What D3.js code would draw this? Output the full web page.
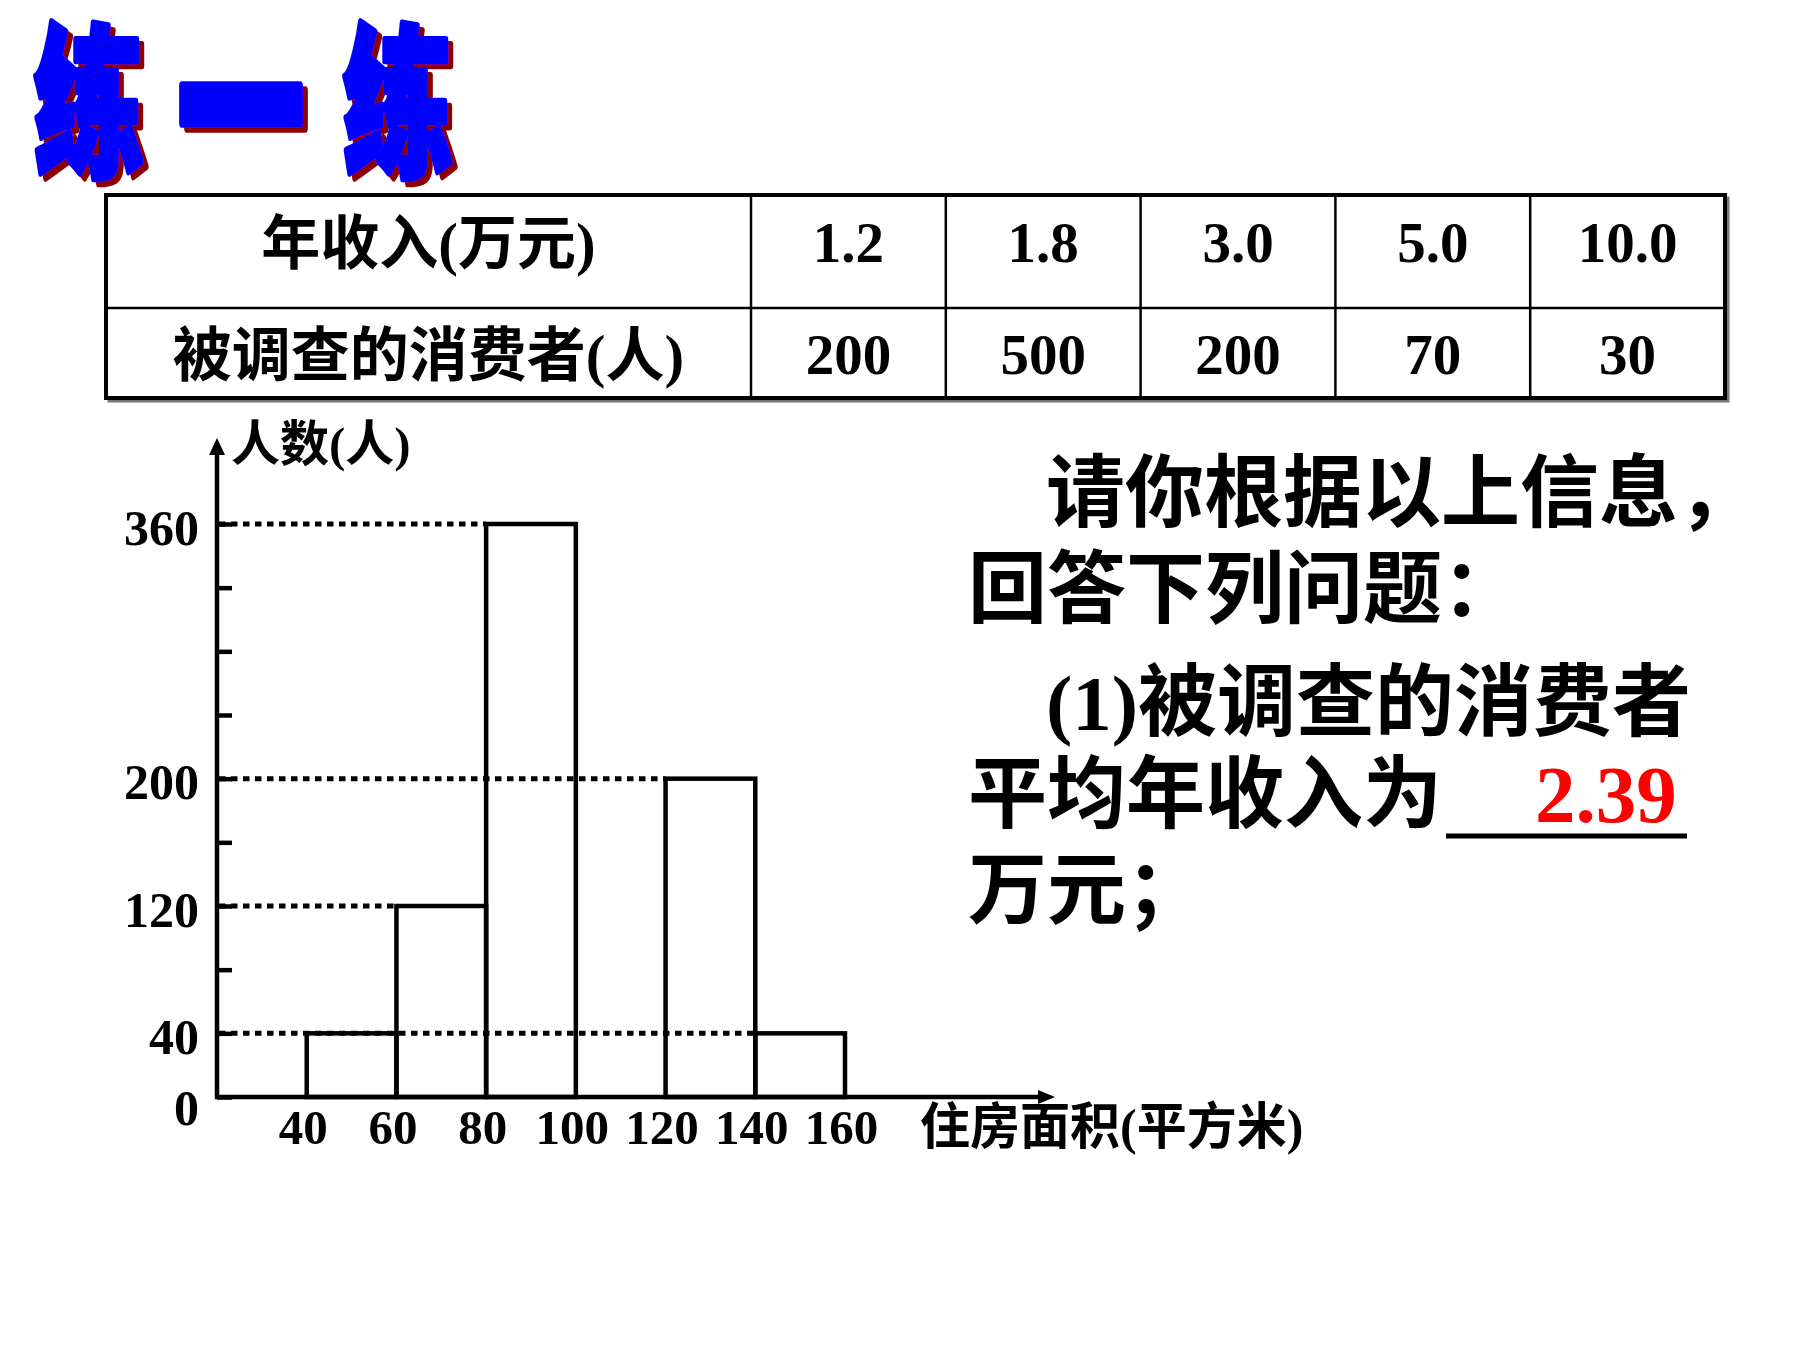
<!DOCTYPE html>
<html>
<head>
<meta charset="utf-8">
<script src="https://cdn.jsdelivr.net/npm/d3@7/dist/d3.min.js"></script>
<style>
  html, body { margin: 0; padding: 0; background: #fff; }
  svg { display: block; }
</style>
</head>
<body>
<div id="chart"></div>
<script>
// ---- data ----
const titleChars = ['练', '一', '练'];
const rowHeaders = ['年收入(万元)', '被调查的消费者(人)'];
const incomes = ['1.2', '1.8', '3.0', '5.0', '10.0'];
const consumers = [200, 500, 200, 70, 30];

const binEdges = [40, 60, 80, 100, 120, 140, 160];
const counts = [40, 120, 360, null, 200, 40];   // 100-120 left blank
const labelledCounts = [0, 40, 120, 200, 360];
const yTitle = '人数(人)';
const xTitle = '住房面积(平方米)';

const questionLines = ['请你根据以上信息，', '回答下列问题：', '(1)被调查的消费者', '平均年收入为', '万元；'];
const answer = '2.39';

// ---- setup ----
const W = 1800, H = 1350;
const FONT = "'Liberation Serif', 'Noto Sans CJK SC', serif";

const svg = d3.select('#chart').append('svg')
  .attr('width', W)
  .attr('height', H)
  .attr('viewBox', [0, 0, W, H]);

// dark red drop shadow for the title
const shadow = svg.append('defs').append('filter')
  .attr('id', 'shadow')
  .attr('x', '-20%').attr('y', '-20%')
  .attr('width', '140%').attr('height', '140%');
shadow.append('feOffset').attr('in', 'SourceAlpha').attr('dx', 5).attr('dy', 5).attr('result', 'off');
shadow.append('feFlood').attr('flood-color', '#8b0000');
shadow.append('feComposite').attr('in2', 'off').attr('operator', 'in').attr('result', 'sh');
const merge = shadow.append('feMerge');
merge.append('feMergeNode').attr('in', 'sh');
merge.append('feMergeNode').attr('in', 'SourceGraphic');

// title
const titleX = [89, 241, 398];
svg.append('g')
  .attr('filter', 'url(#shadow)')
  .selectAll('text')
  .data(titleChars)
  .join('text')
  .attr('transform', (d, i) => i === 1
    ? `translate(${titleX[i]},94) scale(0.74,1.35)`
    : `translate(${titleX[i]},92) scale(0.64,0.95)`)
  .attr('text-anchor', 'middle')
  .attr('dominant-baseline', 'central')
  .attr('font-family', "'Noto Sans CJK SC', sans-serif")
  .attr('font-weight', 900)
  .attr('font-size', 172)
  .attr('fill', '#0000ff')
  .attr('stroke', '#0000ff')
  .attr('stroke-width', 7)
  .attr('stroke-linejoin', 'round')
  .text(d => d);

// ---- table ----
const tbl = { left: 106, right: 1725, top: 195, mid: 308, bottom: 398, firstCol: 751 };
const col = d3.scaleBand().domain(d3.range(incomes.length)).range([tbl.firstCol, tbl.right]);
const table = svg.append('g');

table.append('rect')
  .attr('x', tbl.left + 3).attr('y', tbl.top + 3)
  .attr('width', tbl.right - tbl.left).attr('height', tbl.bottom - tbl.top)
  .attr('fill', 'none').attr('stroke', '#777').attr('stroke-width', 3);
table.append('rect')
  .attr('x', tbl.left).attr('y', tbl.top)
  .attr('width', tbl.right - tbl.left).attr('height', tbl.bottom - tbl.top)
  .attr('fill', '#fff').attr('stroke', '#000').attr('stroke-width', 4);
table.append('line')
  .attr('x1', tbl.left).attr('x2', tbl.right).attr('y1', tbl.mid).attr('y2', tbl.mid)
  .attr('stroke', '#000').attr('stroke-width', 2.5);
table.selectAll('line.col')
  .data(d3.range(incomes.length))
  .join('line')
  .attr('class', 'col')
  .attr('x1', d => col(d)).attr('x2', d => col(d))
  .attr('y1', tbl.top).attr('y2', tbl.bottom)
  .attr('stroke', '#000').attr('stroke-width', 2.5);

const rowBase = [262, 374];
table.selectAll('text.head')
  .data(rowHeaders)
  .join('text')
  .attr('class', 'head')
  .attr('x', (tbl.left + tbl.firstCol) / 2)
  .attr('y', (d, i) => rowBase[i] + 2)
  .attr('text-anchor', 'middle')
  .attr('font-family', FONT)
  .attr('font-weight', 'bold')
  .attr('font-size', 59)
  .text(d => d);

[incomes, consumers].forEach((row, r) => {
  table.selectAll(null)
    .data(row)
    .join('text')
    .attr('x', (d, i) => col(i) + col.bandwidth() / 2)
    .attr('y', rowBase[r])
    .attr('text-anchor', 'middle')
    .attr('font-family', FONT)
    .attr('font-weight', 'bold')
    .attr('font-size', 57)
    .text(d => d);
});

// ---- histogram ----
const x = d3.scaleLinear().domain([20, 160]).range([217, 845]);
const y = d3.scaleLinear().domain([0, 360]).range([1097, 524]);
const axisTipX = 1055, axisTipY = 438;
const chart = svg.append('g');

// dotted guides: from the axis to the left edge of the last bin with that count
const guides = labelledCounts.filter(v => v > 0).map(v => {
  const idx = d3.range(counts.length).filter(i => counts[i] === v).pop();
  return { v, x2: x(binEdges[idx]) };
});
chart.selectAll('line.guide')
  .data(guides)
  .join('line')
  .attr('class', 'guide')
  .attr('x1', x(20) + 2).attr('x2', d => d.x2)
  .attr('y1', d => y(d.v)).attr('y2', d => y(d.v))
  .attr('stroke', '#000')
  .attr('stroke-width', 5)
  .attr('stroke-dasharray', '6.5,5.5');

// bars
const bins = counts.map((c, i) => ({ x0: binEdges[i], x1: binEdges[i + 1], c })).filter(d => d.c != null);
chart.selectAll('rect.bar')
  .data(bins)
  .join('rect')
  .attr('class', 'bar')
  .attr('x', d => x(d.x0))
  .attr('y', d => y(d.c))
  .attr('width', d => x(d.x1) - x(d.x0))
  .attr('height', d => y(0) - y(d.c))
  .attr('fill', 'none')
  .attr('stroke', '#000')
  .attr('stroke-width', 4.5);

// y axis with ticks every 40, labels only at given counts
const yAxis = d3.axisLeft(y)
  .tickValues(d3.range(0, 361, 40))
  .tickSize(-15)
  .tickPadding(18)
  .tickFormat(d => labelledCounts.includes(d) ? d : '');
const yg = chart.append('g')
  .attr('transform', `translate(${x(20)},0)`)
  .call(yAxis);
yg.select('.domain').remove();
yg.selectAll('.tick line').attr('stroke', '#000').attr('stroke-width', 4.5);
yg.selectAll('.tick text')
  .attr('dy', d => d === 0 ? 27 : 20)
  .attr('font-family', FONT)
  .attr('font-weight', 'bold')
  .attr('font-size', 50)
  .attr('fill', '#000');

// x axis labels at bin edges
const xAxis = d3.axisBottom(x).tickValues(binEdges).tickSize(0).tickPadding(0);
const xg = chart.append('g')
  .attr('transform', `translate(-4,${y(0)})`)
  .call(xAxis);
xg.select('.domain').remove();
xg.selectAll('.tick text')
  .attr('y', 47)
  .attr('dy', 0)
  .attr('font-family', FONT)
  .attr('font-weight', 'bold')
  .attr('font-size', 49)
  .attr('fill', '#000');

// axis lines with arrow heads
chart.append('line')
  .attr('x1', x(20)).attr('x2', x(20))
  .attr('y1', y(0) + 2).attr('y2', axisTipY + 10)
  .attr('stroke', '#000').attr('stroke-width', 4.5);
chart.append('line')
  .attr('x1', x(20) - 2).attr('x2', axisTipX - 10)
  .attr('y1', y(0)).attr('y2', y(0))
  .attr('stroke', '#000').attr('stroke-width', 4.5);
chart.append('path')
  .attr('d', `M${x(20)},${axisTipY} l-8,17 h16 z`)
  .attr('fill', '#000');
chart.append('path')
  .attr('d', `M${axisTipX},${y(0)} l-17,-7 v14 z`)
  .attr('fill', '#000');

chart.append('text')
  .attr('x', 231).attr('y', 461)
  .attr('font-family', FONT).attr('font-weight', 'bold').attr('font-size', 49)
  .text(yTitle);
chart.append('text')
  .attr('x', 920).attr('y', 1144)
  .attr('font-family', FONT).attr('font-weight', 'bold').attr('font-size', 50)
  .text(xTitle);

// ---- question text ----
const qx = [1046, 968, 1046, 968, 968];
const qBase = [521, 617, 730, 822, 918];
const q = svg.append('g');
q.selectAll('text')
  .data(questionLines)
  .join('text')
  .attr('x', (d, i) => qx[i])
  .attr('y', (d, i) => qBase[i])
  .attr('font-family', FONT)
  .attr('font-weight', 'bold')
  .attr('font-size', 79)
  .attr('fill', '#000')
  .text(d => d);

q.append('line')
  .attr('x1', 1446).attr('x2', 1687)
  .attr('y1', 836).attr('y2', 836)
  .attr('stroke', '#000').attr('stroke-width', 5);
q.append('text')
  .attr('x', 1535).attr('y', 822)
  .attr('font-family', FONT)
  .attr('font-weight', 'bold')
  .attr('font-size', 81)
  .attr('fill', '#ff0000')
  .text(answer);
</script>
</body>
</html>
